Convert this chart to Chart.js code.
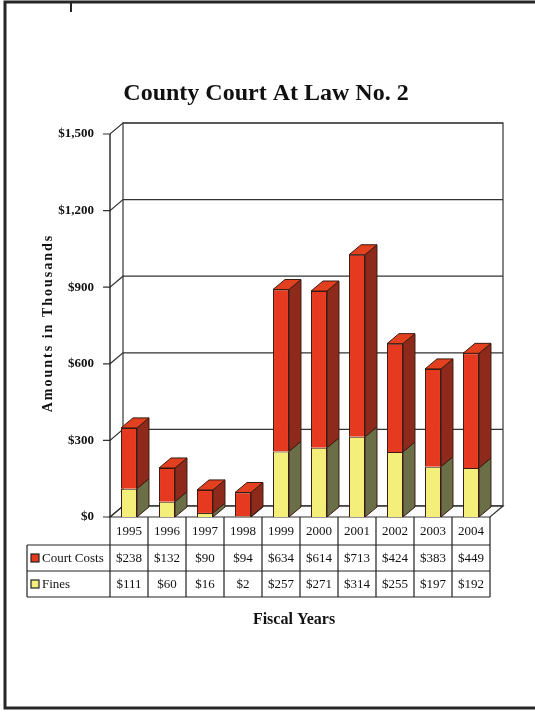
<!DOCTYPE html>
<html>
<head>
<meta charset="utf-8">
<script src="https://cdn.jsdelivr.net/npm/chart.js@4.4.1/dist/chart.umd.min.js"></script>
<style>
  html, body { margin: 0; padding: 0; background: #fff; }
  canvas { display: block; }
</style>
</head>
<body>
<canvas id="chart" width="535" height="713"></canvas>
<script>
var years = ['1995', '1996', '1997', '1998', '1999', '2000', '2001', '2002', '2003', '2004'];
var courtCosts = [238, 132, 90, 94, 634, 614, 713, 424, 383, 449];
var fines = [111, 60, 16, 2, 257, 271, 314, 255, 197, 192];
var yTicks = [0, 300, 600, 900, 1200, 1500];

var serif = "'Liberation Serif', 'Times New Roman', serif";
var depth = { dx: 13, dy: 11 };       // floor / walls
var barDepth = { dx: 12, dy: 10 };    // bar side and top

var faces = {
  'Fines': { front: '#f4ee7a', side: '#6b6f47', top: '#eee76e' },
  'Court Costs': { front: '#e53a1f', side: '#8e2a1c', top: '#e2401f' }
};

function money(v) {
  return '$' + v.toLocaleString('en-US');
}

// page frame, title, walls, floor and grid drawn behind the bars
var walls = {
  id: 'walls',
  beforeDatasetsDraw: function (chart) {
    var ctx = chart.ctx, a = chart.chartArea, y = chart.scales.y;
    var L = a.left, R = a.right, T = a.top, B = a.bottom;
    var dx = depth.dx, dy = depth.dy;
    ctx.save();

    // scanned page border
    ctx.strokeStyle = '#262626';
    ctx.lineWidth = 3;
    ctx.beginPath();
    ctx.moveTo(535, 2); ctx.lineTo(5, 2); ctx.lineTo(5, 708); ctx.lineTo(535, 708);
    ctx.stroke();
    ctx.lineWidth = 2;
    ctx.beginPath(); ctx.moveTo(71, 2); ctx.lineTo(71, 12); ctx.stroke();

    // title
    ctx.fillStyle = '#111';
    ctx.textAlign = 'center';
    ctx.textBaseline = 'alphabetic';
    ctx.font = 'bold 24px ' + serif;
    ctx.fillText('County Court At Law No. 2', 266, 100);

    ctx.font = 'bold 16px ' + serif;
    ctx.fillText('Fiscal Years', 294, 624);

    ctx.save();
    ctx.translate(52, 323);
    ctx.rotate(-Math.PI / 2);
    ctx.font = 'bold 14px ' + serif;
    ctx.letterSpacing = '2px';
    ctx.fillText('Amounts in Thousands', 0, 0);
    ctx.restore();

    // back wall
    ctx.fillStyle = '#fff';
    ctx.strokeStyle = '#333';
    ctx.lineWidth = 1.2;
    ctx.fillRect(L + dx, T - dy, R - L, B - T);
    ctx.strokeRect(L + dx, T - dy, R - L, B - T);

    // floor
    ctx.beginPath();
    ctx.moveTo(L, B); ctx.lineTo(R, B); ctx.lineTo(R + dx, B - dy); ctx.lineTo(L + dx, B - dy);
    ctx.closePath();
    ctx.fillStyle = '#fbfbfb';
    ctx.fill();
    ctx.stroke();

    // grid lines on back wall, diagonals on side wall, tick marks
    yTicks.forEach(function (v) {
      var py = y.getPixelForValue(v);
      ctx.beginPath();
      ctx.moveTo(L - 7, py); ctx.lineTo(L, py); ctx.lineTo(L + dx, py - dy);
      ctx.lineTo(R + dx, py - dy);
      ctx.stroke();
    });

    // front axis
    ctx.lineWidth = 1.4;
    ctx.strokeStyle = '#222';
    ctx.beginPath(); ctx.moveTo(L, T); ctx.lineTo(L, B); ctx.stroke();
    ctx.restore();
  }
};

// side and top faces of the bars
var bars3d = {
  id: 'bars3d',
  afterDatasetsDraw: function (chart) {
    var ctx = chart.ctx, dx = barDepth.dx, dy = barDepth.dy;
    var sets = chart.data.datasets;
    ctx.save();
    ctx.strokeStyle = '#3a1a12';
    ctx.lineWidth = 1;
    ctx.lineJoin = 'round';
    years.forEach(function (yr, i) {
      sets.forEach(function (ds, d) {
        var p = chart.getDatasetMeta(d).data[i].getProps(['x', 'y', 'base', 'width'], true);
        var left = p.x - p.width / 2, right = p.x + p.width / 2;
        var f = faces[ds.label];
        ctx.beginPath();
        ctx.moveTo(right, p.y); ctx.lineTo(right + dx, p.y - dy);
        ctx.lineTo(right + dx, p.base - dy); ctx.lineTo(right, p.base);
        ctx.closePath();
        ctx.fillStyle = f.side; ctx.fill(); ctx.stroke();
        if (d === sets.length - 1) {
          ctx.beginPath();
          ctx.moveTo(left, p.y); ctx.lineTo(left + dx, p.y - dy);
          ctx.lineTo(right + dx, p.y - dy); ctx.lineTo(right, p.y);
          ctx.closePath();
          ctx.fillStyle = f.top; ctx.fill(); ctx.stroke();
        }
      });
    });
    ctx.restore();
  }
};

// data table under the plot
var dataTable = {
  id: 'dataTable',
  afterDraw: function (chart) {
    var ctx = chart.ctx, x = chart.scales.x, a = chart.chartArea;
    var colW = x.getPixelForValue(1) - x.getPixelForValue(0);
    var rows = [a.bottom, 545, 571, 597];
    var labelLeft = 27;
    var rowsData = [
      { label: 'Court Costs', values: courtCosts, color: faces['Court Costs'].front },
      { label: 'Fines', values: fines, color: faces['Fines'].front }
    ];
    ctx.save();
    ctx.strokeStyle = '#222';
    ctx.lineWidth = 1.2;
    ctx.beginPath();
    ctx.moveTo(labelLeft, rows[1]); ctx.lineTo(a.right, rows[1]);
    ctx.moveTo(labelLeft, rows[2]); ctx.lineTo(a.right, rows[2]);
    ctx.moveTo(labelLeft, rows[3]); ctx.lineTo(a.right, rows[3]);
    ctx.moveTo(labelLeft, rows[1]); ctx.lineTo(labelLeft, rows[3]);
    for (var i = 0; i <= years.length; i++) {
      var bx = x.getPixelForValue(0) - colW / 2 + i * colW;
      ctx.moveTo(bx, rows[0]); ctx.lineTo(bx, rows[3]);
    }
    ctx.stroke();

    ctx.fillStyle = '#111';
    ctx.font = '13px ' + serif;
    ctx.textAlign = 'center';
    ctx.textBaseline = 'middle';
    years.forEach(function (yr, i) {
      var cx = x.getPixelForValue(i);
      ctx.fillText(yr, cx, (rows[0] + rows[1]) / 2 + 1);
      rowsData.forEach(function (r, k) {
        ctx.fillText(money(r.values[i]), cx, (rows[k + 1] + rows[k + 2]) / 2 + 1);
      });
    });

    ctx.textAlign = 'left';
    rowsData.forEach(function (r, k) {
      var cy = (rows[k + 1] + rows[k + 2]) / 2;
      ctx.fillStyle = r.color;
      ctx.fillRect(31, cy - 4, 8, 8);
      ctx.strokeRect(31, cy - 4, 8, 8);
      ctx.fillStyle = '#111';
      ctx.fillText(r.label, 42, cy + 1);
    });
    ctx.restore();
  }
};

var config = {
  type: 'bar',
  data: {
    labels: years,
    datasets: [{
      label: 'Fines',
      data: fines,
      backgroundColor: faces['Fines'].front,
      borderColor: '#3a1a12',
      borderWidth: 1
    }, {
      label: 'Court Costs',
      data: courtCosts,
      backgroundColor: faces['Court Costs'].front,
      borderColor: '#3a1a12',
      borderWidth: 1
    }]
  },
  options: {
    responsive: false,
    animation: false,
    layout: {
      padding: { left: 50, right: 45, top: 134, bottom: 196 }
    },
    datasets: {
      bar: { categoryPercentage: 1, barPercentage: 0.42 }
    },
    scales: {
      x: {
        stacked: true,
        display: false
      },
      y: {
        stacked: true,
        min: 0,
        max: 1500,
        afterBuildTicks: function (scale) {
          scale.ticks = yTicks.map(function (v) { return { value: v }; });
        },
        afterFit: function (scale) { scale.width = 60; },
        grid: { display: false },
        border: { display: false },
        ticks: {
          padding: 8,
          color: '#111',
          font: { family: serif, size: 13, weight: 'bold' },
          callback: function (v) { return money(v); }
        }
      }
    },
    plugins: {
      legend: { display: false },
      title: { display: false },
      tooltip: { enabled: false }
    }
  },
  plugins: [walls, bars3d, dataTable]
};

window.onload = function () {
  var ctx = document.getElementById('chart').getContext('2d');
  window.myChart = new Chart(ctx, config);
};
</script>
</body>
</html>
